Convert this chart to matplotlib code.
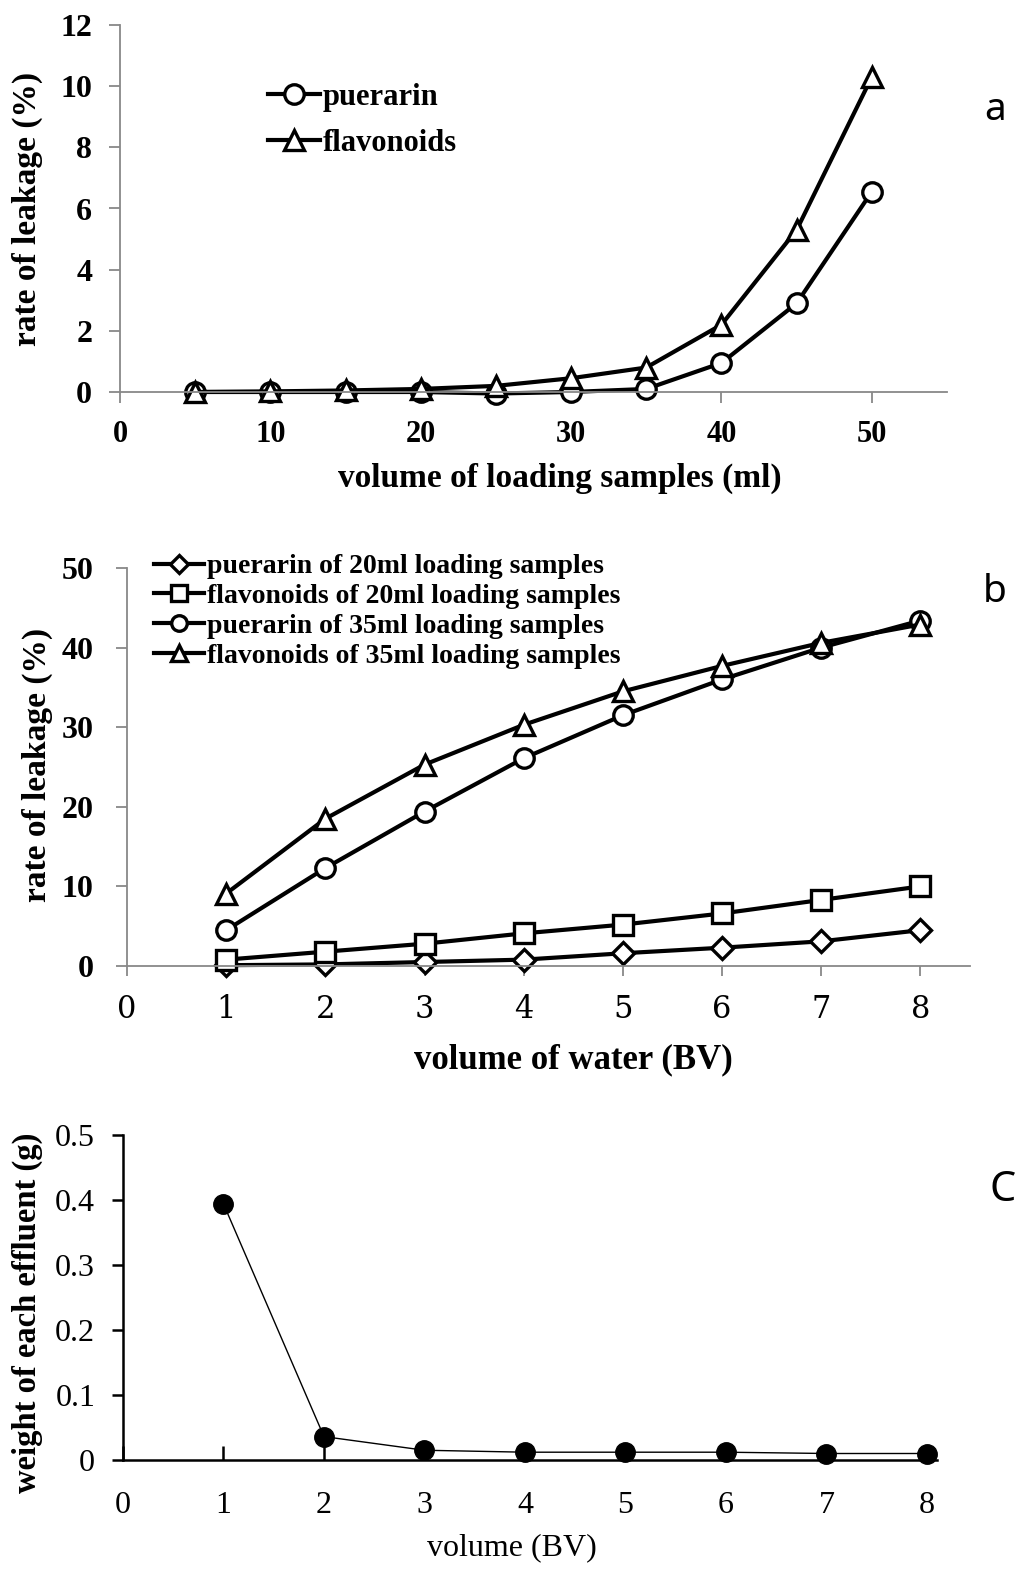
import numpy as np
import matplotlib
matplotlib.use("Agg")
import matplotlib.pyplot as plt

# ---- data ----
vol_ml = [5, 10, 15, 20, 25, 30, 35, 40, 45, 50]
puerarin_a = [0.0, 0.0, 0.0, 0.0, -0.05, 0.0, 0.1, 0.95, 2.9, 6.55]
flavonoids_a = [0.0, 0.02, 0.05, 0.1, 0.2, 0.45, 0.8, 2.2, 5.3, 10.3]

water_bv = [1, 2, 3, 4, 5, 6, 7, 8]
pue20 = [0.1, 0.2, 0.5, 0.8, 1.6, 2.3, 3.1, 4.5]
flav20 = [0.8, 1.8, 2.8, 4.1, 5.2, 6.6, 8.3, 10.0]
pue35 = [4.5, 12.3, 19.4, 26.1, 31.5, 36.0, 40.0, 43.4]
flav35 = [9.1, 18.5, 25.3, 30.3, 34.5, 37.7, 40.6, 42.9]

effluent_bv = [1, 2, 3, 4, 5, 6, 7, 8]
effluent_g = [0.394, 0.036, 0.015, 0.012, 0.012, 0.012, 0.010, 0.010]

legend_a = ["puerarin", "flavonoids"]
legend_b = ["puerarin of 20ml loading samples",
            "flavonoids of 20ml loading samples",
            "puerarin of 35ml loading samples",
            "flavonoids of 35ml loading samples"]

SERIF = "Liberation Serif"
W, H = 1029, 1573
fig = plt.figure(figsize=(W / 100, H / 100), dpi=100)


def px_axes(l, r, t, b):
    return fig.add_axes([l / W, 1 - b / H, (r - l) / W, (b - t) / H])


def style(ax, spine_col, spine_w, ylabel_font, xlabel_font):
    for s in ("top", "right"):
        ax.spines[s].set_visible(False)
    for s in ("left", "bottom"):
        ax.spines[s].set_color(spine_col)
        ax.spines[s].set_linewidth(spine_w)
    ax.tick_params(colors=spine_col, width=spine_w)
    for lab in ax.get_yticklabels():
        lab.set(**ylabel_font, color="black")
    for lab in ax.get_xticklabels():
        lab.set(**xlabel_font, color="black")


# ---- panel a ----
ax = px_axes(120, 947, 25, 392)
mk = dict(color="black", lw=3, mfc="white", mec="black", mew=2.4, clip_on=False)
ax.plot(vol_ml, puerarin_a, marker="o", ms=14, label=legend_a[0], **mk)
ax.plot(vol_ml, flavonoids_a, marker="^", ms=15, label=legend_a[1], **mk)
ax.set_xlim(0, 55)
ax.set_ylim(0, 12)
ax.set_xticks([0, 10, 20, 30, 40, 50])
ax.set_yticks(range(0, 13, 2))
ax.tick_params(axis="y", length=8, pad=12)
ax.tick_params(axis="x", length=8, pad=12)
style(ax, "#888888", 1.3, dict(family=SERIF, weight="bold", size=23),
      dict(family=SERIF, weight="bold", size=22))
ax.set_ylabel("rate of leakage (%)", family=SERIF, weight="bold", size=24)
ax.yaxis.set_label_coords(-0.093, 0.5)
ax.set_xlabel("volume of loading samples (ml)", family=SERIF, weight="bold", size=24)
ax.xaxis.set_label_coords(0.532, -0.192)
ax.legend(loc="upper left", bbox_to_anchor=((268 - 120) / 827, 1 - (83 - 25) / 367),
          frameon=False, handlelength=1.7, handletextpad=0.1, labelspacing=0.55,
          borderaxespad=0, borderpad=0,
          prop=dict(family=SERIF, weight="bold", size=22))
fig.text(995 / W, 1 - 110 / H, "a", family="Noto Sans", weight="bold", size=28,
         ha="center", va="center")

# ---- panel b ----
ax = px_axes(127, 970, 568, 966)
mk = dict(color="black", lw=3, mfc="white", mec="black", mew=2.4, clip_on=False)
ax.plot(water_bv, pue20, marker="D", ms=11, label=legend_b[0], **mk)
ax.plot(water_bv, flav20, marker="s", ms=14, label=legend_b[1], **mk)
ax.plot(water_bv, pue35, marker="o", ms=14, label=legend_b[2], **mk)
ax.plot(water_bv, flav35, marker="^", ms=15, label=legend_b[3], **mk)
ax.set_xlim(0, 8.5)
ax.set_ylim(0, 50)
ax.set_xticks(range(0, 9))
ax.set_yticks(range(0, 51, 10))
ax.tick_params(axis="y", length=8, pad=16)
ax.tick_params(axis="x", length=7, pad=13)
style(ax, "#888888", 1.3, dict(family=SERIF, weight="bold", size=23),
      dict(family="DejaVu Serif", size=22))
ax.set_ylabel("rate of leakage (%)", family=SERIF, weight="bold", size=24)
ax.yaxis.set_label_coords(-0.088, 0.505)
ax.set_xlabel("volume of water (BV)", family=SERIF, weight="bold", size=25)
ax.xaxis.set_label_coords(0.530, -0.193)
ax.legend(loc="upper left", bbox_to_anchor=((154 - 127) / 843, 1 + (568 - 554) / 398),
          frameon=False, handlelength=1.8, handletextpad=0.1, labelspacing=0.155,
          borderaxespad=0, borderpad=0, markerscale=0.8,
          prop=dict(family=SERIF, weight="bold", size=20))
fig.text(995 / W, 1 - 592 / H, "b", family="Noto Sans", weight="bold", size=28,
         ha="center", va="center")

# ---- panel c ----
ax = px_axes(123, 937, 1135, 1460)
ax.plot(effluent_bv, effluent_g, color="black", lw=1, marker="o", ms=14,
        mfc="black", mec="black", clip_on=False)
ax.set_xlim(0, 8.1)
ax.set_ylim(0, 0.5)
ax.set_xticks(range(0, 9))
ax.set_yticks([0, 0.1, 0.2, 0.3, 0.4, 0.5])
ax.set_yticklabels(["0", "0.1", "0.2", "0.3", "0.4", "0.5"])
ax.tick_params(axis="y", length=8, pad=12)
ax.tick_params(axis="x", direction="in", length=10, pad=22)
style(ax, "black", 1.8, dict(family=SERIF, size=23), dict(family=SERIF, size=23))
ax.set_ylabel("weight of each effluent (g)", family=SERIF, weight="bold", size=23.5)
ax.yaxis.set_label_coords(-0.098, 0.452)
ax.set_xlabel("volume (BV)", family=SERIF, size=23)
ax.xaxis.set_label_coords(0.478, -0.225)
fig.text(1003 / W, 1 - 1190 / H, "C", family="Noto Sans", size=30,
         ha="center", va="center")

fig.savefig("out.png", dpi=100, facecolor="white")
